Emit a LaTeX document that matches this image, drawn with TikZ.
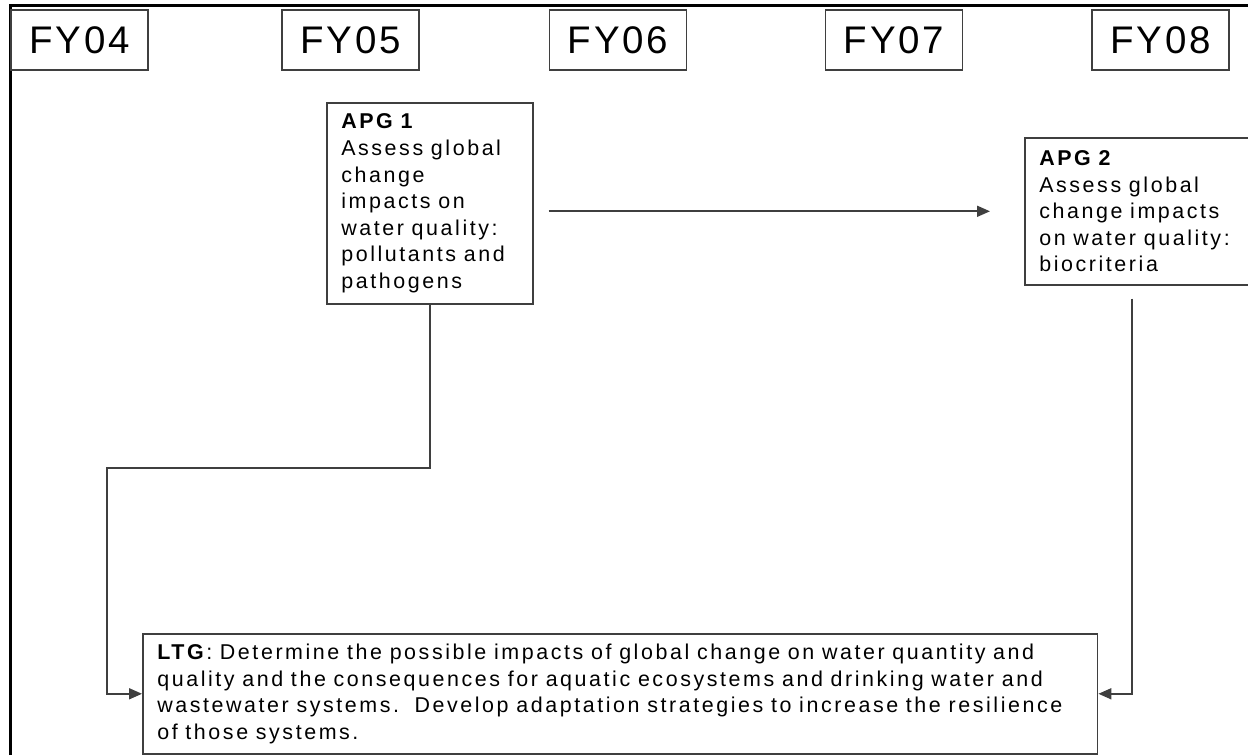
\documentclass[tikz,border=0pt]{standalone}
\usepackage{fontspec}
\setmainfont{Liberation Sans}[LetterSpace=12]
\newfontfamily\yearfont{Liberation Sans}[LetterSpace=7]
\usetikzlibrary{arrows.meta}
\definecolor{edgegray}{HTML}{3F3F3F}
\newcommand\widespace{\spaceskip=0.36em plus 0.1em minus 0.05em\relax}

\begin{document}
\begin{tikzpicture}[x=0.02cm, y=-0.02cm,
    yearbox/.style={draw=edgegray, line width=0.9pt, minimum width=2.74cm, minimum height=1.2cm, inner sep=0pt, font=\yearfont\fontsize{21.9}{26}\selectfont},
    goalbox/.style={draw=edgegray, line width=0.9pt, anchor=north west, align=left, inner xsep=0.29cm, inner ysep=0pt, font=\fontsize{12.2}{15.1}\selectfont, execute at begin node=\widespace},
    flow/.style={draw=edgegray, line width=1pt, -{Triangle[length=0.26cm,width=0.22cm]}}]
            \useasboundingbox (0,0) rectangle (1248,755);
            \draw[line width=1.7pt] (10.5,755) -- (10.5,5.8) -- (1248,5.8);

            \node[yearbox] (fy04) at (79.5,40) {FY04};
            \node[yearbox] (fy05) at (350.5,40) {FY05};
            \node[yearbox] (fy06) at (618,40) {FY06};
            \node[yearbox] (fy07) at (894,40) {FY07};
            \node[yearbox] (fy08) at (1160.5,40) {FY08};

            \node[goalbox, text width=3.54cm, minimum height=4.02cm] (apg1) at (326,102) {\textbf{APG 1}\\Assess global\\change\\impacts on\\water quality:\\pollutants and\\pathogens};
            \node[goalbox, text width=4.14cm, minimum height=2.94cm] (apg2) at (1024,137) {\textbf{APG 2}\\Assess global\\change impacts\\on water quality:\\biocriteria};
            \node[goalbox, text width=18.52cm, minimum height=2.4cm] (ltg) at (142,633) {\textbf{LTG}: Determine the possible impacts of global change on water quantity and\\quality and the consequences for aquatic ecosystems and drinking water and\\wastewater systems.\ \ Develop adaptation strategies to increase the resilience\\of those systems.};
            \coordinate (bendleft) at (107,468);

            \draw[flow, shorten <=0.3cm, shorten >=0.68cm] (apg1.east |- apg2.west) -- (apg2.west);
            \draw[flow] (apg1.south) |- (bendleft) |- (ltg.west);
            \draw[flow] ([xshift=2.16cm, yshift=-0.26cm]apg2.south west) |- (ltg.east);
        \end{tikzpicture}
\end{document}
